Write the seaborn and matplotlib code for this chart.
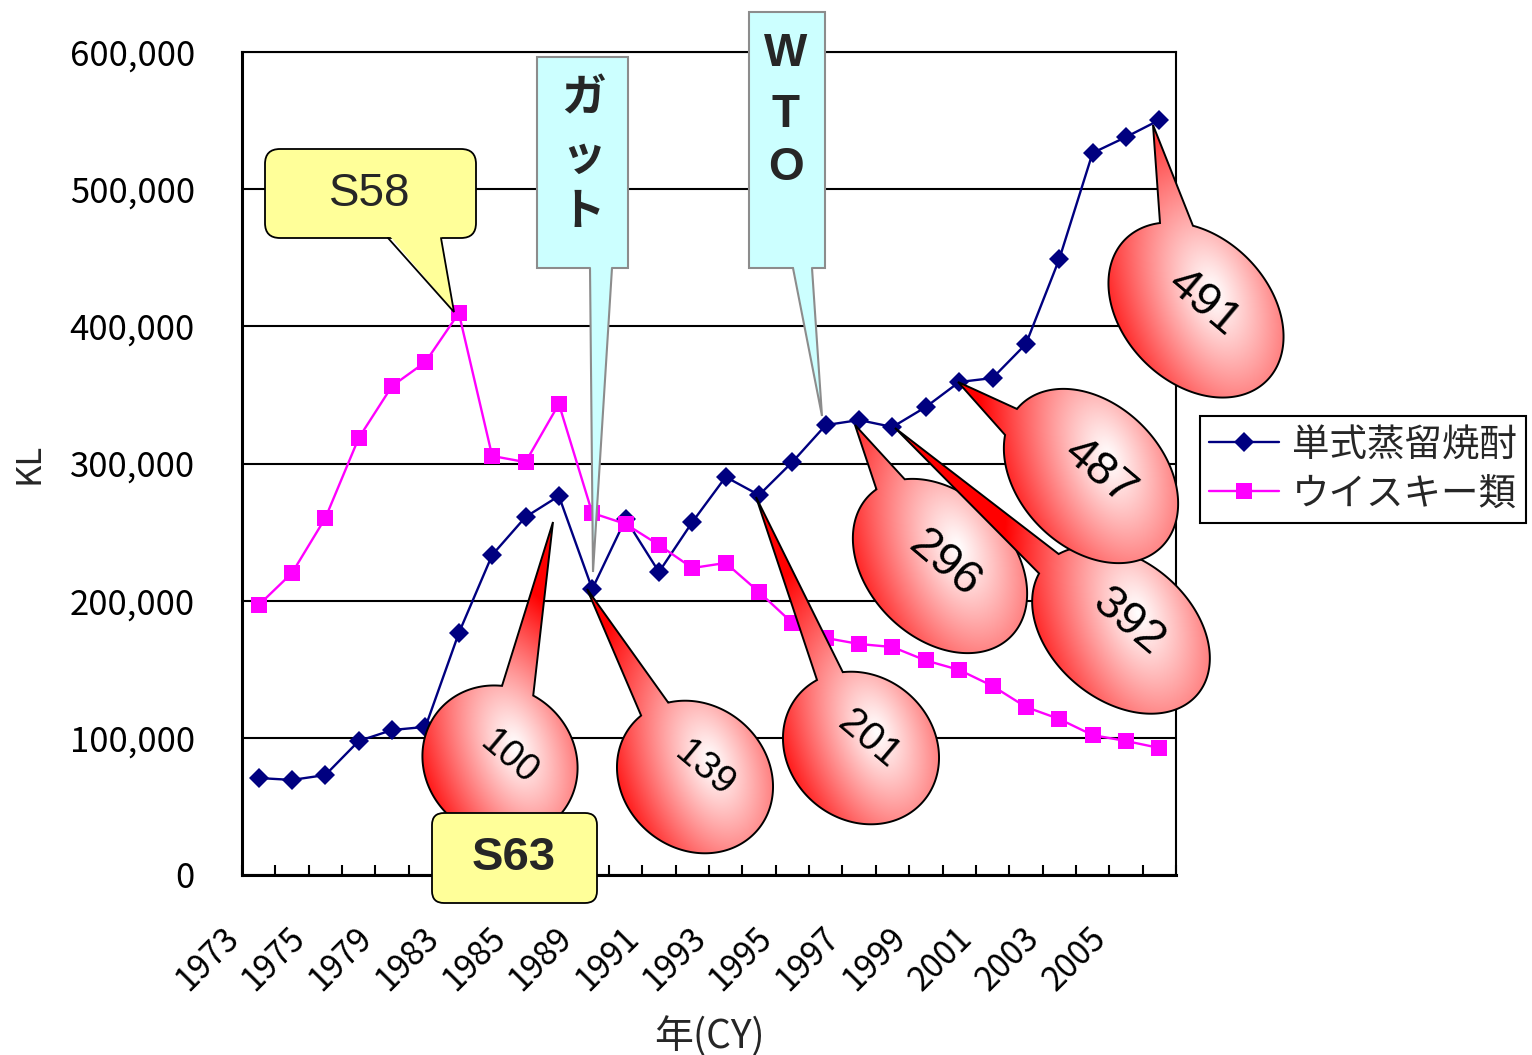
import numpy as np
import pandas as pd
import matplotlib
matplotlib.use("Agg")
import matplotlib.pyplot as plt
import seaborn as sns
from matplotlib.patches import Polygon, FancyBboxPatch, Rectangle
from matplotlib.lines import Line2D
from matplotlib.transforms import ScaledTranslation

# ---------------- data ----------------
series_names = ["単式蒸留焼酎", "ウイスキー類"]
tick_labels = ["1973", "1975", "1979", "1983", "1985", "1989", "1991", "1993",
               "1995", "1997", "1999", "2001", "2003", "2005"]
shochu = [70700, 69300, 72900, 97700, 105700, 108000, 176400, 233300, 261000,
          276300, 208500, 259500, 220900, 257300, 290200, 277000, 301100, 328000,
          331700, 326600, 341200, 359400, 362300, 387100, 449000, 526400, 538000,
          550400]
whisky = [196800, 220200, 260300, 318600, 356500, 374000, 409700, 305500, 301000,
          343400, 263900, 255900, 240600, 223800, 227500, 206300, 183700, 172800,
          168400, 166200, 156400, 149500, 137800, 122500, 113700, 102000, 97700,
          92600]
y_ticks = [0, 100000, 200000, 300000, 400000, 500000, 600000]
bubble_texts = ["100", "139", "201", "296", "392", "487", "491"]

# ---------------- style ----------------
sns.set_theme(style="white")
plt.rcParams["font.family"] = ["Noto Sans CJK JP", "DejaVu Sans"]

W, H = 1532, 1055
fig = plt.figure(figsize=(W / 100, H / 100), dpi=100)
ax = fig.add_axes([242 / W, 1 - 875 / H, 934 / W, 823 / H])

n = len(shochu)
df = pd.DataFrame({
    "idx": list(range(n)) * 2,
    "KL": shochu + whisky,
    "series": [series_names[0]] * n + [series_names[1]] * n,
})
sns.lineplot(data=df, x="idx", y="KL", hue="series", style="series",
             markers=["D", "s"], dashes=False,
             palette=["#000080", "#FF00FF"], lw=1.7, markeredgewidth=0,
             errorbar=None, legend=False, sort=False, ax=ax, zorder=3)
ax.lines[0].set_markersize(10)
ax.lines[1].set_markersize(11)

ax.set_xlim(-0.5, n - 0.5)
ax.set_ylim(0, 600000)
ax.set_yticks(y_ticks)
ax.set_yticklabels([f"{v:,}" for v in y_ticks])
ax.yaxis.grid(True, color="black", lw=1.5)
ax.set_axisbelow(True)

ax.set_xticks(np.arange(0, n, 2))
ax.set_xticklabels(tick_labels, rotation=45, ha="right")
ax.set_xticks(np.arange(-0.5, n, 1), minor=True)
ax.tick_params(axis="x", which="major", length=0, pad=33, labelsize=24, colors="black")
ax.tick_params(axis="x", which="minor", direction="in", length=7, width=1.5, color="black", bottom=True)
ax.tick_params(axis="y", length=0, pad=34, labelsize=25, colors="black")
off = ScaledTranslation(-0.13, 0, fig.dpi_scale_trans)
for lab in ax.get_xticklabels():
    lab.set_transform(lab.get_transform() + off)

for side in ["left", "bottom"]:
    ax.spines[side].set_linewidth(2.2)
    ax.spines[side].set_color("black")
for side in ["top", "right"]:
    ax.spines[side].set_linewidth(1.5)
    ax.spines[side].set_color("black")

ax.set_xlabel("年(CY)", fontsize=28)
ax.set_ylabel("KL", fontsize=25)
ax.xaxis.set_label_coords(0.5, -(1017 - 875) / 823)
ax.yaxis.set_label_coords((46 - 242) / 934, 0.5)

leg = ax.legend(ax.lines[:2], series_names, loc="upper left",
                bbox_to_anchor=(1200 / W, 1 - 416 / H), bbox_transform=fig.transFigure,
                frameon=True, fancybox=False, edgecolor="black", framealpha=1,
                borderaxespad=0, fontsize=27, handlelength=1.85, handletextpad=0.35,
                borderpad=0.25, labelspacing=0.27, numpoints=1)
leg.get_frame().set_linewidth(1.5)

# ---------------- overlay for callouts (pixel coordinates) ----------------
ov = fig.add_axes([0, 0, 1, 1], zorder=5)
ov.set_xlim(0, W)
ov.set_ylim(H, 0)
ov.axis("off")


def ellipse_callout(cx, cy, a, b, phi, base1, base2, tip, text, tpos, fs, z):
    ph = np.deg2rad(phi)
    c, s = np.cos(ph), np.sin(ph)

    def to_t(p):
        dx, dy = p[0] - cx, p[1] - cy
        lx = dx * c + dy * s
        ly = -dx * s + dy * c
        return np.arctan2(ly / b, lx / a)

    t1, t2 = to_t(base1), to_t(base2)
    d = (t2 - t1) % (2 * np.pi)
    if d > np.pi:
        t1, t2 = t2, t1
    d = (t2 - t1) % (2 * np.pi)
    ts = np.linspace(t1 + d, t1 + 2 * np.pi, 400)
    lx, ly = a * np.cos(ts), b * np.sin(ts)
    xs = cx + lx * c - ly * s
    ys = cy + lx * s + ly * c
    pts = np.vstack([[tip], np.column_stack([xs, ys])])
    poly = Polygon(pts, closed=True, facecolor="none", edgecolor="black",
                   lw=1.4, zorder=z + 0.1, joinstyle="miter")
    ov.add_patch(poly)
    x0, x1 = pts[:, 0].min() - 3, pts[:, 0].max() + 3
    y0, y1 = pts[:, 1].min() - 3, pts[:, 1].max() + 3
    gx = np.linspace(x0, x1, int(x1 - x0))
    gy = np.linspace(y0, y1, int(y1 - y0))
    X, Y = np.meshgrid(gx, gy)
    hw = np.sqrt((a * c) ** 2 + (b * s) ** 2)
    hh = np.sqrt((a * s) ** 2 + (b * c) ** 2)
    px, py = cx + 0.2 * hw, cy - 0.2 * hh
    ang = np.deg2rad(70)
    dxv, dyv = np.cos(ang), np.sin(ang)
    nx, ny = np.sin(ang), -np.cos(ang)
    Sn = (X - px) * nx + (Y - py) * ny
    Sd = (X - px) * dxv + (Y - py) * dyv
    T = np.sqrt((Sn / (1.35 * hw)) ** 2 + (Sd / (2.4 * hw)) ** 2)
    T = np.clip(T, 0, 1) ** 1.1
    img = np.dstack([np.ones_like(T), 1 - T, 1 - T])
    im = ov.imshow(img, extent=(x0, x1, y1, y0), origin="upper", zorder=z,
                   interpolation="bilinear", aspect="auto")
    im.set_clip_path(poly)
    ov.text(tpos[0], tpos[1], text, rotation=-40, ha="center", va="center",
            fontsize=fs, family=["Liberation Sans", "DejaVu Sans"],
            rotation_mode="anchor", zorder=z + 0.2, color="black")


callouts = [
    # cx, cy, a, b, phi, base1, base2, tip, text pos, fontsize
    (500, 762, 80, 74, 40, (502, 687), (532, 698), (553, 522), (509, 757), 27),
    (695, 777, 82, 72, 40, (638, 712), (668, 702), (587, 589), (704, 769), 28),
    (861, 748, 82, 72, 40, (817, 680), (843, 673), (756, 497), (869, 739), 29),
    (940, 566, 100, 72, 45, (877, 490), (905, 480), (855, 425), (945, 564), 34),
    (1121, 630, 100, 70, 40, (1037, 572), (1057, 552), (895, 428), (1128, 622), 34),
    (1091, 476, 100, 72, 45, (1003, 434), (1017, 409), (958, 382), (1100, 472), 34),
    (1196, 310, 100, 73, 45, (1160, 223), (1193, 227), (1153, 125), (1204, 303), 34),
]
for i, (cx, cy, a, b, phi, b1, b2, tip, tpos, fs) in enumerate(callouts):
    ellipse_callout(cx, cy, a, b, phi, b1, b2, tip, bubble_texts[i], tpos, fs, 10 + i)


def box_with_tail(x0, y0, x1, y1, fc, ec, lw, rounding, base1, base2, tip, z):
    if rounding > 0:
        box = FancyBboxPatch((x0, y0), x1 - x0, y1 - y0,
                             boxstyle=f"round,pad=0,rounding_size={rounding}",
                             fc=fc, ec=ec, lw=lw, zorder=z)
    else:
        box = Rectangle((x0, y0), x1 - x0, y1 - y0, fc=fc, ec=ec, lw=lw, zorder=z)
    ov.add_patch(box)
    if tip is not None:
        fill = Polygon([(base1[0], base1[1] - 4), tip, (base2[0], base2[1] - 4)],
                       closed=True, fc=fc, ec="none", zorder=z + 0.1)
        ov.add_patch(fill)
        ov.add_line(Line2D([base1[0], tip[0], base2[0]], [base1[1], tip[1], base2[1]],
                           color=ec, lw=lw, zorder=z + 0.2, solid_joinstyle="miter"))


# S58
box_with_tail(265, 149, 476, 238, "#FFFF99", "black", 1.3, 15,
              (388, 238), (441, 238), (454, 312), 30)
ov.text(370, 194, "S58", ha="center", va="center", fontsize=33,
        family=["Liberation Sans", "DejaVu Sans"], zorder=31)
# S63
box_with_tail(432, 813, 597, 903, "#FFFF99", "black", 1.3, 12, None, None, None, 30)
ov.text(514, 858, "S63", ha="center", va="center", fontsize=34, fontweight="bold",
        family=["Liberation Sans", "DejaVu Sans"], zorder=31)
# GATT
box_with_tail(537, 57, 628, 268, "#CCFFFF", "#8C8C8C", 1.5, 0,
              (590, 268), (612, 268), (593, 572), 32)
for ch, yy in zip("ガット", [98, 157, 212]):
    ov.text(583, yy, ch, ha="center", va="center", fontsize=32, fontweight="bold",
            zorder=33)
# WTO
box_with_tail(749, 12, 825, 268, "#CCFFFF", "#8C8C8C", 1.5, 0,
              (793, 268), (812, 268), (822, 416), 32)
for ch, yy in zip("WTO", [54, 115, 168]):
    ov.text(786, yy, ch, ha="center", va="center", fontsize=33, fontweight="bold",
            family=["Liberation Sans", "DejaVu Sans"], zorder=33)

ov.set_xlim(0, W)
ov.set_ylim(H, 0)

fig.savefig("out.png", dpi=100)
